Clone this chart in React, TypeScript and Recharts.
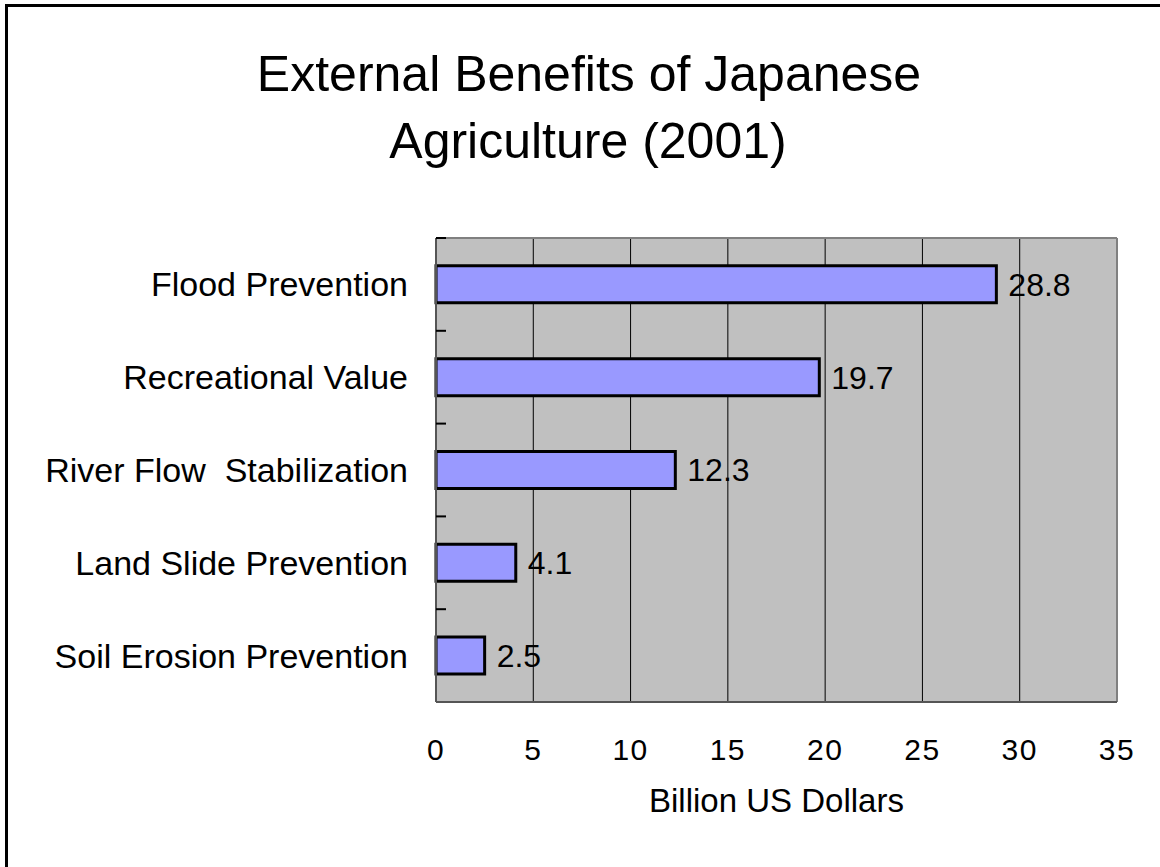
import React from "react";
import {
  BarChart,
  Bar,
  XAxis,
  YAxis,
  CartesianGrid,
  LabelList,
  ReferenceLine,
  Label,
} from "recharts";

const categories = [
  "Flood Prevention",
  "Recreational Value",
  "River Flow\u00a0 Stabilization",
  "Land Slide Prevention",
  "Soil Erosion Prevention",
];
const values = [28.8, 19.7, 12.3, 4.1, 2.5];
const xTicks = [0, 5, 10, 15, 20, 25, 30, 35];

const FONT = '"Liberation Sans", Arial, Helvetica, sans-serif';
const TICK_MARGIN = 28;

// category label plus the small inward tick at the top edge of each band
const CategoryTick = (props: any) => {
  const { x, y, payload } = props;
  const half = payload?.offset ?? 0;
  const axisX = x + TICK_MARGIN;
  return (
    <g>
      <line
        x1={axisX}
        x2={axisX + 10}
        y1={y - half}
        y2={y - half}
        stroke="#000"
        strokeWidth={2}
      />
      <text
        x={x}
        y={y}
        dy="0.355em"
        textAnchor="end"
        fontSize={34}
        fontFamily={FONT}
        fill="#000"
        style={{ whiteSpace: "pre" }}
      >
        {payload.value}
      </text>
    </g>
  );
};

const App = () => {
  const data = categories.map((name, i) => ({ name, value: values[i] }));

  return (
    <div
      style={{
        position: "absolute",
        left: 0,
        top: 0,
        width: 1160,
        height: 867,
        background: "#fff",
        overflow: "hidden",
        fontFamily: FONT,
      }}
    >
      {/* page frame: only top and left edges are visible */}
      <div
        style={{
          position: "absolute",
          left: 5,
          top: 4,
          width: 1200,
          height: 900,
          borderTop: "3px solid #000",
          borderLeft: "3px solid #000",
        }}
      />
      <svg
        width={1160}
        height={200}
        style={{ position: "absolute", left: 0, top: 0 }}
      >
        <text x={589} y={91} textAnchor="middle" fontSize={50} fontFamily={FONT} fill="#000">
          External Benefits of Japanese
        </text>
        <text x={588} y={158} textAnchor="middle" fontSize={50} fontFamily={FONT} fill="#000">
          Agriculture (2001)
        </text>
      </svg>
      <div style={{ position: "absolute", left: 0, top: 0 }}>
        <BarChart
          width={1160}
          height={867}
          data={data}
          layout="vertical"
          barCategoryGap="30%"
          margin={{ top: 238, right: 43, bottom: 45, left: 0 }}
          style={{ fontFamily: FONT }}
        >
          <CartesianGrid
            yAxisId="cat"
            horizontal={false}
            stroke="#000"
            strokeWidth={1}
            fill="#C0C0C0"
            fillOpacity={1}
          />
          <XAxis
            type="number"
            domain={[0, 35]}
            ticks={xTicks}
            interval={0}
            height={120}
            tickLine={false}
            tickSize={0}
            tickMargin={37}
            axisLine={{ stroke: "#555", strokeWidth: 2 }}
            tick={{ fontSize: 30, fill: "#000", letterSpacing: 1.5 }}
          >
            <Label
              value="Billion US Dollars"
              position="insideBottom"
              offset={10}
              style={{ fontSize: 33, fill: "#000" }}
            />
          </XAxis>
          <YAxis
            yAxisId="cat"
            type="category"
            dataKey="name"
            width={436}
            tickLine={false}
            tickSize={0}
            tickMargin={TICK_MARGIN}
            axisLine={{ stroke: "#555", strokeWidth: 2 }}
            tick={<CategoryTick />}
            interval={0}
          />
          <ReferenceLine
            yAxisId="cat"
            y={categories[0]}
            position="start"
            stroke="#808080"
            strokeWidth={2}
          />
          <ReferenceLine yAxisId="cat" x={35} stroke="#808080" strokeWidth={2} />
          <Bar
            yAxisId="cat"
            dataKey="value"
            fill="#9999FF"
            stroke="#000"
            strokeWidth={3}
            isAnimationActive={false}
          >
            <LabelList
              dataKey="value"
              position="right"
              offset={12}
              style={{ fontSize: 32, fill: "#000" }}
            />
          </Bar>
        </BarChart>
      </div>
    </div>
  );
};

export default App;
